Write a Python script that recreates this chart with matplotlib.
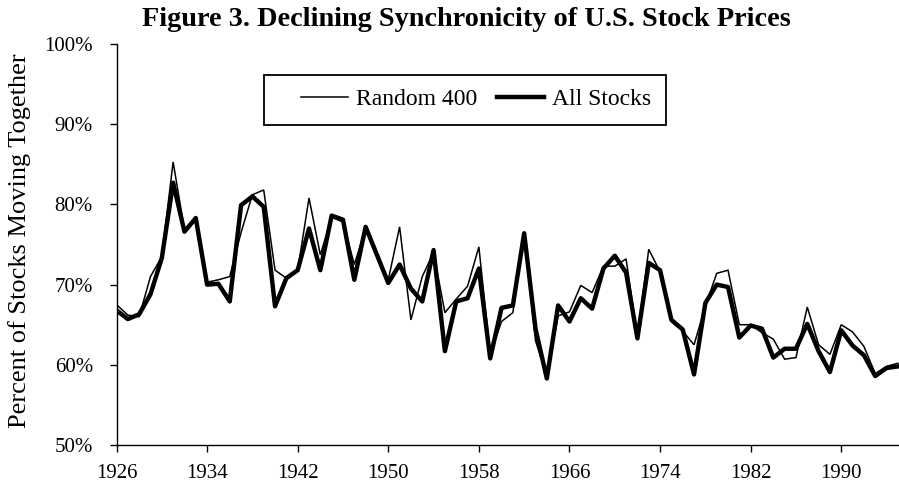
import matplotlib
matplotlib.use("Agg")
import matplotlib.pyplot as plt
from matplotlib.ticker import FuncFormatter
from matplotlib.patches import Rectangle

years = list(range(1926, 1996))
random_400 = [67.5, 66.2, 66.0, 71.0, 73.5, 85.3, 76.8, 78.2, 70.3, 70.6,
              71.0, 76.5, 81.2, 81.8, 71.8, 70.8, 71.8, 80.8, 73.7, 78.4,
              77.8, 72.5, 77.0, 73.8, 70.6, 77.2, 65.6, 71.0, 74.0, 66.5,
              68.2, 69.8, 74.7, 61.3, 65.4, 66.5, 76.2, 63.0, 58.6, 66.1,
              66.6, 69.9, 69.0, 72.3, 72.3, 73.2, 63.5, 74.4, 71.6, 65.4,
              64.2, 62.5, 67.3, 71.4, 71.8, 65.0, 65.0, 64.0, 63.2, 60.7,
              60.9, 67.2, 62.5, 61.3, 65.0, 64.1, 62.3, 58.9, 59.8, 60.2]
all_stocks = [66.8, 65.7, 66.3, 68.8, 73.3, 82.7, 76.6, 78.3, 70.0, 70.1,
              67.9, 79.9, 81.0, 79.7, 67.3, 70.8, 71.8, 77.0, 71.8, 78.6,
              78.1, 70.6, 77.2, 73.7, 70.2, 72.5, 69.5, 67.9, 74.3, 61.7,
              67.9, 68.3, 72.0, 60.8, 67.1, 67.4, 76.4, 64.5, 58.3, 67.4,
              65.4, 68.3, 67.0, 72.0, 73.6, 71.5, 63.3, 72.7, 71.8, 65.6,
              64.4, 58.8, 67.7, 70.0, 69.7, 63.4, 64.9, 64.5, 60.9, 62.0,
              62.0, 65.1, 61.7, 59.1, 64.3, 62.4, 61.2, 58.6, 59.6, 59.8]
x_ticks = list(range(1926, 1991, 8))
y_ticks = [50, 60, 70, 80, 90, 100]

plt.rcParams['font.family'] = ['Liberation Serif', 'DejaVu Serif']

W, H = 899, 494
fig = plt.figure(figsize=(W / 100, H / 100), dpi=100)
ax = fig.add_axes([116.5 / W, 1 - 445 / H, 1 - 116.5 / W, (445 - 44) / H])

ax.plot(years, random_400, color='black', lw=1.1, label='Random 400',
        solid_joinstyle='miter')
ax.plot(years, all_stocks, color='black', lw=3.2, label='All Stocks',
        solid_joinstyle='round')

ax.set_xlim(1926, 1995.1)
ax.set_ylim(50, 100)
ax.set_xticks(x_ticks)
ax.set_yticks(y_ticks)
ax.yaxis.set_major_formatter(FuncFormatter(lambda v, p: f"{int(v)}%"))
ax.tick_params(axis='both', direction='out', length=5, width=1, labelsize=15,
               colors='black')
ax.tick_params(axis='y', pad=12)
ax.tick_params(axis='x', pad=9)
for s in ['top', 'right']:
    ax.spines[s].set_visible(False)
for s in ['left', 'bottom']:
    ax.spines[s].set_linewidth(1)

fig.text(20 / W, 1 - 241 / H, 'Percent of Stocks Moving Together',
         rotation=90, ha='center', va='center', fontsize=19)

fig.text(466 / W, 1 - 19 / H, 'Figure 3. Declining Synchronicity of U.S. Stock Prices',
         ha='center', va='center', fontsize=20.3, fontweight='bold')

leg = ax.legend(loc='center', bbox_to_anchor=(476 / W, 1 - 99.5 / H),
                bbox_transform=fig.transFigure, ncol=2, fontsize=17,
                frameon=False, handlelength=2.0, handletextpad=0.35,
                columnspacing=0.8, borderpad=0.0, borderaxespad=0)
fig.patches.append(Rectangle((263.5 / W, 1 - 124.5 / H), (666 - 263.5) / W,
                             (124.5 - 74.5) / H, transform=fig.transFigure,
                             fill=False, edgecolor='black', lw=1.3))

fig.savefig('out.png', dpi=100)
